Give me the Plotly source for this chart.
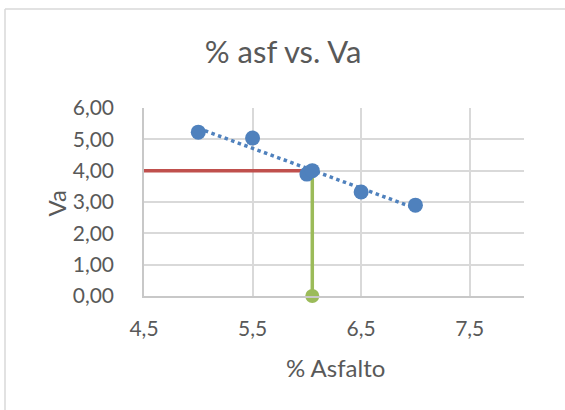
import numpy as np
import plotly.graph_objects as go

# Data
asfalto = [5.0, 5.5, 6.0, 6.5, 7.0]
va = [5.23, 5.04, 3.89, 3.32, 2.90]
design_x = 6.05
design_va = 4.0
x_ticks = [4.5, 5.5, 6.5, 7.5]
y_ticks = [0, 1, 2, 3, 4, 5, 6]

# Linear trendline (as in the spreadsheet) over the data range
slope, intercept = np.polyfit(asfalto, va, 1)
trend_x = [min(asfalto), max(asfalto)]
trend_y = [slope * v + intercept for v in trend_x]

BLUE = "#4F81BD"
RED = "#C0504D"
GREEN = "#9BBB59"
TXT = "#595959"
FONT = "Lato"

L, R, T, B = 144, 524, 108, 296
PW, PH = R - L, B - T

fig = go.Figure()
fig.add_trace(go.Scatter(x=trend_x, y=trend_y, mode="lines",
                         line=dict(color=BLUE, width=3.5, dash="dot"),
                         hoverinfo="skip"))
fig.add_trace(go.Scatter(x=[4.5, design_x], y=[design_va, design_va], mode="lines",
                         line=dict(color=RED, width=3.5)))
fig.add_trace(go.Scatter(x=[design_x, design_x], y=[design_va, 0], mode="lines+markers",
                         line=dict(color=GREEN, width=3.5),
                         marker=dict(color=GREEN, size=14), cliponaxis=False))
fig.add_trace(go.Scatter(x=asfalto + [design_x], y=va + [design_va], mode="markers",
                         marker=dict(color=BLUE, size=15), cliponaxis=False))

fig.update_layout(
    width=565, height=410,
    margin=dict(l=L, r=565 - R, t=T, b=410 - B),
    paper_bgcolor="white", plot_bgcolor="white",
    showlegend=False,
    separators=",.",
    font=dict(family=FONT, color=TXT, size=21),
    title=dict(text="% asf vs. Va", xref="container", x=0.501, y=1 - 52 / 410,
               xanchor="center", yanchor="middle",
               font=dict(family=FONT, size=31, color=TXT)),
    xaxis=dict(range=[4.5, 8.0], tickvals=x_ticks, tickformat=".1f",
               showgrid=True, gridcolor="#D9D9D9", gridwidth=1.5,
               showline=True, linecolor="#C8C8C8", linewidth=1.5,
               zeroline=False, ticks="", ticklabelstandoff=13,
               tickfont=dict(size=21, color=TXT)),
    yaxis=dict(range=[0, 6], tickvals=y_ticks, tickformat=".2f",
               showgrid=True, gridcolor="#D9D9D9", gridwidth=1.5,
               showline=True, linecolor="#C8C8C8", linewidth=1.5,
               zeroline=False, ticks="", ticklabelstandoff=24,
               tickfont=dict(size=21, color=TXT)),
    annotations=[
        dict(text="% Asfalto", xref="paper", yref="paper",
             x=(335 - L) / PW, y=-(367 - B) / PH, xanchor="center", yanchor="middle",
             showarrow=False, font=dict(size=24, color=TXT)),
        dict(text="Va", xref="paper", yref="paper", textangle=-90,
             x=(56 - L) / PW, y=(B - 203.5) / PH, xanchor="center", yanchor="middle",
             showarrow=False, font=dict(size=24, color=TXT)),
    ],
    shapes=[
        dict(type="line", xref="paper", yref="paper",
             x0=(5 - L) / PW, x1=(600 - L) / PW,
             y0=1 + (T - 9) / PH, y1=1 + (T - 9) / PH,
             line=dict(color="#D9D9D9", width=1.5)),
        dict(type="line", xref="paper", yref="paper",
             x0=(5 - L) / PW, x1=(5 - L) / PW,
             y0=1 + (T - 9) / PH, y1=-(450 - B) / PH,
             line=dict(color="#D9D9D9", width=1.5)),
    ],
)

fig.write_html("out.html")
